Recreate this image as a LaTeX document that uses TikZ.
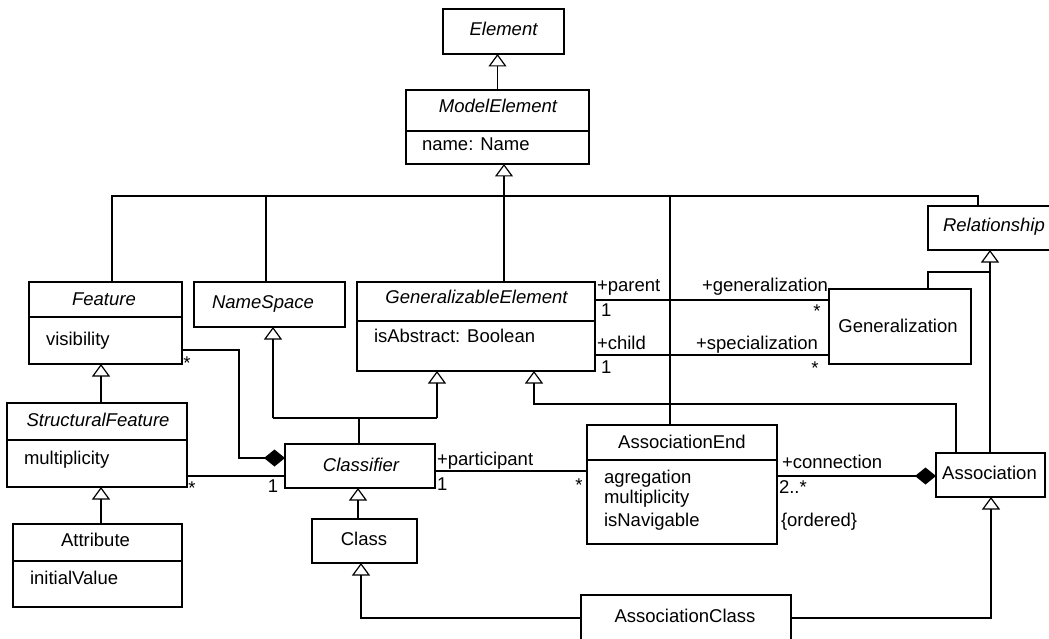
\documentclass[tikz,border=0pt]{standalone}
\usepackage{fontspec}
\setmainfont{Liberation Sans}
\usetikzlibrary{arrows.meta}

% class box from its top-left to its bottom-right corner
\newcommand\umlbox[5]{\node[box, minimum width={(#4)-(#2)}, minimum height={(#5)-(#3)}] (#1) at (#2,#3) {};}

\begin{document}
\begin{tikzpicture}[x=1pt,y=-1pt,
  every node/.style={font=\fontsize{18.5}{21}\selectfont, inner sep=0pt, outer sep=0pt},
  box/.style={draw, line width=1.2pt, anchor=north west},
  cname/.style={text height=13pt, text depth=0pt},
  abs/.style={cname, font=\fontsize{18.5}{21}\selectfont\itshape},
  attrtext/.style={cname, anchor=west},
  conn/.style={line width=1.2pt},
  gen/.style={conn, -{Triangle[open, width=18pt, length=12.5pt]}},
  comp/.style={conn, -{Diamond[width=17pt, length=21pt]}},
]
\useasboundingbox (0,0) rectangle (1049,639);
\clip (0,0) rectangle (1049,639);

% ---- class boxes
\umlbox{el}{443}{9}{564}{54}
\umlbox{me}{406}{90}{589}{164}
\umlbox{feat}{29}{282}{182}{364}
\umlbox{ns}{194}{282}{345}{327}
\umlbox{ge}{357}{282}{595}{371}
\umlbox{rel}{928}{206}{1062}{250}
\umlbox{gen}{829}{289}{971}{364}
\umlbox{sf}{7}{403}{187}{487}
\umlbox{cls}{285}{444}{435}{488}
\umlbox{class}{312}{519}{417}{563}
\umlbox{attr}{13}{524}{182}{607}
\umlbox{ae}{587}{425}{777}{544}
\umlbox{asc}{936}{453}{1045}{497}
\umlbox{ac}{581}{595}{791}{655}

% compartment dividers
\draw[conn] (406,131) -- (589,131);
\draw[conn] (29,317) -- (182,317);
\draw[conn] (357,321) -- (595,321);
\draw[conn] (7,440) -- (187,440);
\draw[conn] (13,561) -- (182,561);
\draw[conn] (587,460) -- (777,460);

% ---- class names
\node[abs] (el-n) at (503.5,29) {Element};
\node[abs] (me-n) at (498,106) {ModelElement};
\node[abs] (feat-n) at (104,299) {Feature};
\node[abs] (ns-n) at (263,302) {NameSpace};
\node[abs] (ge-n) at (476.5,297) {GeneralizableElement};
\node[abs, anchor=west] (rel-n) at (943,225) {Relationship};
\node[cname] (gen-n) at (898,325.5) {Generalization};
\node[abs] (sf-n) at (98,420) {StructuralFeature};
\node[abs] (cls-n) at (361,464.5) {Classifier};
\node[cname] (class-n) at (364,538.5) {Class};
\node[cname] (attr-n) at (95.5,540) {Attribute};
\node[cname] (ae-n) at (682,441.5) {AssociationEnd};
\node[cname] (asc-n) at (989.5,473) {Association};
\node[cname] (ac-n) at (685,615.5) {AssociationClass};

% ---- attributes
\node[attrtext] (me-a) at (422,144) {name: Name};
\node[attrtext] (feat-a) at (46,338.5) {visibility};
\node[attrtext] (ge-a) at (374,335.5) {isAbstract: Boolean};
\node[attrtext] (sf-a) at (24,457.5) {multiplicity};
\node[attrtext] (attr-a) at (30,578) {initialValue};
\node[attrtext] (ae-a1) at (604,476.5) {agregation};
\node[attrtext] (ae-a2) at (604,497) {multiplicity};
\node[attrtext] (ae-a3) at (604,519.5) {isNavigable};

% ---- generalizations
\draw[gen] (me.north) -- (me.north |- el.south);

\coordinate (b1) at (112,196);
\coordinate (b2) at (266,196);
\coordinate (b3) at (504,196);
\coordinate (b4) at (670,196);
\coordinate (b5) at (978,196);
\draw[gen] (b3) -- (b3 |- me.south);
\draw[conn] (b1 |- feat.north) -- (b1) -- (b5) -- (b5 |- rel.north);
\draw[conn] (b2) -- (b2 |- ns.north);
\draw[conn] (b3) -- (b3 |- ge.north);
\draw[conn] (b4) -- (b4 |- ae.north);

\coordinate (xf) at (101,400);
\draw[gen] (xf |- sf.north) -- (xf |- feat.south);
\draw[gen] (xf |- attr.north) -- (xf |- sf.south);

\coordinate (k1) at (273,418);
\coordinate (k2) at (437,418);
\coordinate (k3) at (359,418);
\draw[gen] (k1) -- (k1 |- ns.south);
\draw[gen] (k2) -- (k2 |- ge.south);
\draw[conn] (k1) -- (k2);
\draw[conn] (k3 |- cls.north) -- (k3);

\coordinate (k4) at (358,500);
\draw[gen] (k4 |- class.north) -- (k4 |- cls.south);

\coordinate (k5) at (361,618);
\draw[gen] (ac.west |- k5) -- (k5) -- (k5 |- class.south);
\coordinate (k6) at (991,618);
\draw[gen] (ac.east |- k6) -- (k6) -- (k6 |- asc.south);

\coordinate (k7) at (534,404);
\coordinate (k8) at (956,404);
\draw[gen] (k8 |- asc.north) -- (k8) -- (k7) -- (k7 |- ge.south);

\coordinate (k9) at (990,272);
\coordinate (k10) at (928,272);
\draw[gen] (k9 |- asc.north) -- (k9 |- rel.south);
\draw[conn] (k10 |- gen.north) -- (k10) -- (k9);

% ---- associations
\coordinate (c1) at (239,350);
\coordinate (c2) at (239,458);
\draw[comp] (feat.east |- c1) -- (c1) -- (c2) -- (c2 -| cls.west);
\coordinate (c3) at (0,476);
\draw[conn] (sf.east |- c3) -- (cls.west |- c3);

\coordinate (p1) at (0,300);
\coordinate (p2) at (0,355);
\draw[conn] (ge.east |- p1) -- (gen.west |- p1);
\draw[conn] (ge.east |- p2) -- (gen.west |- p2);

\coordinate (p3) at (0,471);
\draw[conn] (cls.east |- p3) -- (ae.west |- p3);

\coordinate (p4) at (0,476);
\draw[comp] (ae.east |- p4) -- (asc.west |- p4);

% ---- role names and multiplicities
\node[anchor=base west] (l-par) at (597,291.5) {+parent};
\node[anchor=base west] (l-par1) at (601,316.5) {1};
\node[anchor=base east] (l-gen) at (828,291.5) {+generalization};
\node[anchor=base] (l-gens) at (817,317.5) {*};
\node[anchor=base west] (l-chi) at (597,349.5) {+child};
\node[anchor=base west] (l-chi1) at (601,373.5) {1};
\node[anchor=base east] (l-spe) at (818,349.5) {+specialization};
\node[anchor=base] (l-spes) at (815,374.5) {*};

\node[anchor=base west] (l-part) at (437,465) {+participant};
\node[anchor=base west] (l-part1) at (437,490) {1};
\node[anchor=base] (l-parts) at (579,491) {*};

\node[anchor=base west] (l-con) at (782,468.5) {+connection};
\node[anchor=base west] (l-con2) at (779,493.5) {2..*};
\node[anchor=base west] (l-ord) at (781,526.5) {\{ordered\}};

\node[anchor=base] (l-fs) at (187,369.5) {*};
\node[anchor=base] (l-sfs) at (192,494.5) {*};
\node[anchor=base] (l-sf1) at (273,492.5) {1};
\end{tikzpicture}
\end{document}
